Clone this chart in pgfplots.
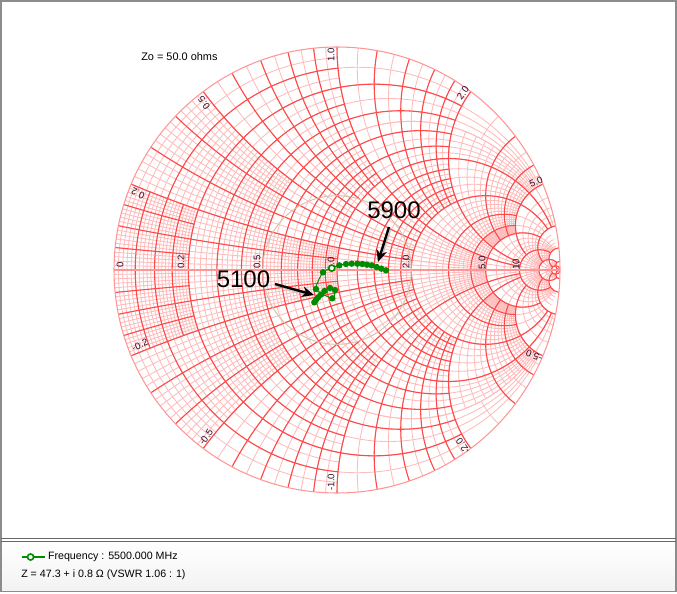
\documentclass[border=0pt]{standalone}
\usepackage{pgfplots}
\pgfplotsset{compat=1.18}
\usepackage{fontspec}
\setmainfont{Liberation Sans}
\usetikzlibrary{arrows.meta}
\definecolor{gridlight}{RGB}{255,188,188}
\definecolor{gridmajor}{RGB}{255,72,72}
\definecolor{gridaxis}{RGB}{255,150,150}
\definecolor{trace}{RGB}{0,140,0}
\definecolor{vswr}{RGB}{212,192,172}
\definecolor{labelc}{RGB}{50,10,40}
\definecolor{framec}{RGB}{140,140,140}
% constant-resistance line r, reactance from #2 to #3 (both halves)
\newcommand\rln[3]{%
 \pgfmathsetmacro\A{#1+1}\pgfmathsetmacro\C{#1/\A}\pgfmathsetmacro\Rr{1/\A}%
 \pgfmathsetmacro\Ta{180-2*atan(#2/\A)}\pgfmathsetmacro\Tb{180-2*atan(#3/\A)}%
 \draw (\C,0)++(\Ta:\Rr) arc[start angle=\Ta,end angle=\Tb,radius=\Rr];%
 \draw (\C,0)++(-\Ta:\Rr) arc[start angle=-\Ta,end angle=-\Tb,radius=\Rr];}
% constant-reactance line x, resistance from #2 to #3 (both halves)
\newcommand\xln[3]{%
 \ifdim#1pt<0.045pt
  \pgfmathsetmacro\Da{(#2+1)^2+(#1)^2}\pgfmathsetmacro\Db{(#3+1)^2+(#1)^2}%
  \pgfmathsetmacro\Xa{((#2)^2+(#1)^2-1)/\Da}\pgfmathsetmacro\Ya{2*#1/\Da}%
  \pgfmathsetmacro\Xb{((#3)^2+(#1)^2-1)/\Db}\pgfmathsetmacro\Yb{2*#1/\Db}%
  \draw (\Xa,\Ya)--(\Xb,\Yb);\draw (\Xa,-\Ya)--(\Xb,-\Yb);%
 \else
  \pgfmathsetmacro\Rr{1/#1}%
  \pgfmathsetmacro\Ta{-90-2*atan(#1/(#2+1))}\pgfmathsetmacro\Tb{-90-2*atan(#1/(#3+1))}%
  \draw (1,\Rr)++(\Ta:\Rr) arc[start angle=\Ta,end angle=\Tb,radius=\Rr];%
  \draw (1,-\Rr)++(-\Ta:\Rr) arc[start angle=-\Ta,end angle=-\Tb,radius=\Rr];%
 \fi}
% one cell of the light grid: r0 r1 x0 x1 dr dx
\newcommand\cell[6]{%
 \ifdim#5pt>0pt
  \pgfmathtruncatemacro\nn{round((#2-#1)/#5)}%
  \foreach \i in {0,...,\nn}{\pgfmathsetmacro\vv{#1+\i*#5}\ifdim\vv pt>0.001pt \rln{\vv}{#3}{#4}\fi}%
 \fi
 \ifdim#6pt>0pt
  \pgfmathtruncatemacro\nn{round((#4-#3)/#6)}%
  \foreach \i in {0,...,\nn}{\pgfmathsetmacro\vv{#3+\i*#6}\ifdim\vv pt>0.001pt \xln{\vv}{#1}{#2}\fi}%
 \fi}
\newcommand\maj[2]{\rln{#1}{0}{#2}\xln{#1}{0}{#2}}
\newcommand\px[2]{axis cs:{(#1-337)/223},{(270-#2)/223}}
\begin{document}
\begin{tikzpicture}
\useasboundingbox (0,0) rectangle (507.75pt,444.75pt);
% panel frame
\begin{scope}[shift={(0pt,444.75pt)},x=.75pt,y=-.75pt]
 \shade[top color=white,bottom color=black!5] (1,541) rectangle (676,591.5);
 \draw[framec,line width=.9pt] (1,1)--(676,1)--(676,591.5)--(1,591.5)--cycle;
 \draw[black!60,line width=.75pt] (1,538)--(676,538);
 \draw[black!60,line width=.75pt] (1,541)--(676,541);
\end{scope}
% Smith chart grid
\begin{scope}[shift={(252.75pt,242.25pt)},x=167.25pt,y=167.25pt]
 \begin{scope}[draw=gridlight,line width=.65pt]
 \cell{0}{.2}{0}{.2}{.01}{.01}
 \cell{0}{.2}{.2}{.5}{.02}{.02}
 \cell{0}{.2}{.5}{1}{.05}{.05}
 \cell{0}{.2}{1}{2}{.1}{.1}
 \cell{0}{.2}{2}{5}{0}{.5}
 \cell{0}{.2}{5}{10}{0}{1}
 \cell{.2}{.5}{0}{.2}{.02}{.02}
 \cell{.2}{.5}{.2}{.5}{.02}{.02}
 \cell{.2}{.5}{.5}{1}{.05}{.05}
 \cell{.2}{.5}{1}{2}{.1}{.1}
 \cell{.2}{.5}{2}{5}{.1}{.5}
 \cell{.2}{.5}{5}{10}{0}{1}
 \cell{.5}{1}{0}{.2}{.02}{.02}
 \cell{.5}{1}{.2}{.5}{.05}{.05}
 \cell{.5}{1}{.5}{1}{.05}{.05}
 \cell{.5}{1}{1}{2}{.1}{.1}
 \cell{.5}{1}{2}{5}{.1}{.2}
 \cell{.5}{1}{5}{10}{.5}{1}
 \cell{1}{2}{0}{.2}{.1}{.05}
 \cell{1}{2}{.2}{.5}{.1}{.05}
 \cell{1}{2}{.5}{1}{.1}{.1}
 \cell{1}{2}{1}{2}{.1}{.1}
 \cell{1}{2}{2}{5}{.2}{.2}
 \cell{1}{2}{5}{10}{1}{1}
 \cell{2}{5}{0}{.2}{.2}{.1}
 \cell{2}{5}{.2}{.5}{.2}{.1}
 \cell{2}{5}{.5}{1}{.2}{.1}
 \cell{2}{5}{1}{2}{.2}{.2}
 \cell{2}{5}{2}{5}{.2}{.2}
 \cell{4}{5}{2}{5}{.1}{0}
 \cell{2}{5}{5}{10}{1}{1}
 \cell{2}{5}{10}{20}{0}{2}
 \cell{5}{10}{0}{1}{1}{.5}
 \cell{5}{10}{1}{2}{1}{.5}
 \cell{5}{10}{2}{5}{1}{1}
 \cell{5}{10}{5}{10}{1}{1}
 \cell{5}{10}{10}{20}{1}{2}
 \cell{10}{20}{0}{5}{2}{1}
 \cell{10}{20}{5}{10}{2}{1}
 \cell{10}{20}{10}{20}{2}{2}
 \cell{20}{50}{0}{20}{10}{5}
 \cell{20}{50}{20}{50}{10}{10}
 \end{scope}
 \begin{scope}[draw=gridmajor,line width=.8pt]
 \maj{.05}{.2}\maj{.15}{.2}
 \maj{.1}{1}\maj{.3}{1}\maj{.5}{1}\maj{.7}{1}\maj{.9}{1}
 \maj{.2}{2}\maj{.4}{2}\maj{.6}{2}\maj{.8}{2}
 \maj{1.2}{2}\maj{1.4}{2}\maj{1.6}{2}\maj{1.8}{2}
 \maj{1}{10}\maj{2}{10}\maj{3}{5}\maj{4}{5}\maj{5}{10}
 \maj{10}{20}\maj{20}{50}\maj{50}{1000}
 \end{scope}
 \draw[gridaxis,line width=1.5pt] (-1,0)--(1,0);
 \draw[gridaxis,line width=.8pt] (0,0) circle[radius=1];
 \draw[vswr,line width=.7pt] (0,0) circle[radius=.3333];
\end{scope}
\begin{axis}[
  at={(0pt,0pt)},anchor=south west,scale only axis,
  width=507.75pt,height=444.75pt,
  xmin=-1.5112,xmax=1.5247,ymin=-1.4484,ymax=1.2108,
  hide axis,clip=false,
  legend style={at={(\px{20.5}{557})},anchor=west,draw=none,fill=none,font=\fontsize{8}{10}\selectfont,inner sep=0pt},
  legend cell align=left,
  legend image code/.code={%
    \path (0,0)--(17.25pt,0);
    \draw[trace,line width=.75pt] (0,0)--(13.5pt,0);
    \draw[trace,fill=white,line width=1.2pt] (6.75pt,0) circle[radius=2.3pt];},
]
% tick labels along the real axis and round the rim
\begin{scope}[every node/.style={font=\fontsize{7.2}{8}\selectfont,text=labelc,inner sep=0pt}]
\node[rotate=90] at (\px{120}{265}) {0};
\node[rotate=90] at (\px{181}{262}) {0.2};
\node[rotate=90] at (\px{257}{262}) {0.5};
\node[rotate=90] at (\px{331}{264}) {1.0};
\node[rotate=90] at (\px{406}{262}) {2.0};
\node[rotate=90] at (\px{482}{263}) {5.0};
\node[rotate=90] at (\px{516}{264}) {10};
\node[rotate=157.4] at (\px{138}{193.5}) {0.2};
\node[rotate=126.9] at (\px{204}{103}) {0.5};
\node[rotate=90] at (\px{331}{55}) {1.0};
\node[rotate=53.1] at (\px{463}{93}) {2.0};
\node[rotate=22.6] at (\px{536}{181.5}) {5.0};
\node[rotate=22.6] at (\px{140}{345}) {-0.2};
\node[rotate=53.1] at (\px{206}{437}) {-0.5};
\node[rotate=90] at (\px{331}{482}) {-1.0};
\node[rotate=126.9] at (\px{463}{446}) {-2.0};
\node[rotate=157.4] at (\px{534}{356}) {-5.0};
\end{scope}
\addplot[trace,line width=.75pt,smooth,tension=.4,mark=*,mark size=2pt,mark options={fill=trace,draw=trace},forget plot] coordinates {
 (-.1018,-.1448) (-.0942,-.1345) (-.0852,-.1233) (-.0717,-.1099) (-.0561,-.0942)
 (-.0314,-.0807) (-.0090,-.0897) (-.0211,-.1269) (-.0942,-.0852) (-.0628,-.0103)
 (-.0235,.0085) (.0105,.0209) (.0404,.0269) (.0658,.0284) (.0912,.0284)
 (.1136,.0269) (.1345,.0239) (.1555,.0209) (.1778,.0135) (.1987,.0060) (.2197,-.0014)};
\addplot[trace,line width=1.2pt,only marks,mark=*,mark size=2.3pt,mark options={fill=white,draw=trace}] coordinates {(-.0235,.0085)};
\addlegendentry{Frequency : 5500.000 MHz}
\node[anchor=west,inner sep=0pt,font=\fontsize{8}{10}\selectfont] at (\px{21}{575}) {Z = 47.3 + i 0.8 Ω (VSWR 1.06 : 1)};
\node[anchor=west,inner sep=0pt,font=\fontsize{8.2}{10}\selectfont] at (\px{141}{57}) {Zo = 50.0 ohms};
\node[inner sep=0pt,font=\fontsize{18}{20}\selectfont] at (\px{243.5}{279}) {5100};
\node[inner sep=0pt,font=\fontsize{18}{20}\selectfont] at (\px{394}{210}) {5900};
\draw[black!30,line width=2.4pt,opacity=.5] (\px{276}{285.5})--(\px{305}{294});
\draw[black!30,line width=2.4pt,opacity=.5] (\px{390}{228})--(\px{382}{254});
\draw[black,line width=1.8pt,-{Stealth[length=9pt,width=8pt]}] (\px{275}{284})--(\px{314}{295});
\draw[black,line width=1.8pt,-{Stealth[length=9pt,width=8pt]}] (\px{389}{227})--(\px{378}{262});
\end{axis}
\end{tikzpicture}
\end{document}
